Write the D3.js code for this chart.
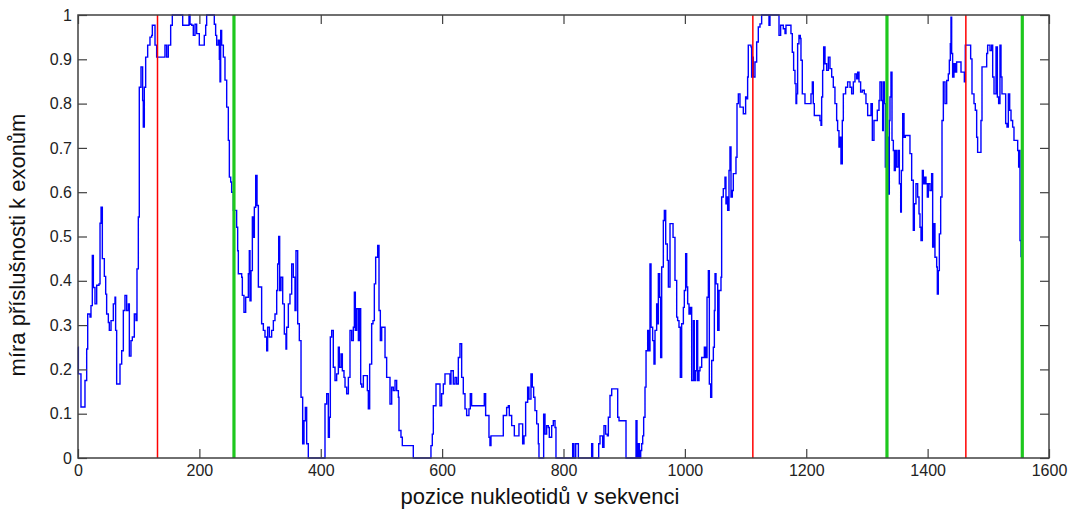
<!DOCTYPE html>
<html>
<head>
<meta charset="utf-8">
<script src="https://cdn.jsdelivr.net/npm/d3@7"></script>
<style>
  html, body { margin: 0; padding: 0; background: #fff; }
  svg { display: block; }
  text { font-family: "Liberation Sans", Arial, sans-serif; }
</style>
</head>
<body>
<svg id="chart" width="1070" height="514"></svg>
<script>
// ---- data ----
const xTicks = [0, 200, 400, 600, 800, 1000, 1200, 1400, 1600];
const yTicks = [0, 0.1, 0.2, 0.3, 0.4, 0.5, 0.6, 0.7, 0.8, 0.9, 1];
const xLabel = "pozice nukleotidů v sekvenci";
const yLabel = "míra příslušnosti k exonům";
const exonStarts = [131, 1112, 1463];   // red markers
const exonEnds = [257, 1333, 1556];     // green markers

const posX = [
 0,0.6,4.9,11.5,14.3,16,19.8,21.4,23.6,25.3,28,30.8,34.6,36.3,38,40.1,43.4,45.6,47.2,50,51.6,54.4,58.2,61,62,63.7,69.2,72,74.7,77.4,80.2,83,84.6,87.3,89.5,92.8,95.6,97.2,99.4,101,103.8,106.5,107.6,109.3,111.5,114.8,118.6,121.4,122.5,126.9,129.6,143.3,146.1,148.8,152.7,155.4,172.5,182.9,184.6,187.3,190,192.8,195.5,199.9,208.1,210.4,212,224.6,226.8,228.5,231.2,232.9,234,235.1,236.7,239.5,242.2,245,247.7,249.4,251.6,253.2,256,
 261.4,263.1,264.2,269.7,270.8,273.5,276.3,280.7,282.3,283.4,285.1,287.3,288.9,290.6,292.8,295,297.2,302.6,305.4,308.1,310.9,312.5,315.3,319.1,321.9,324.6,327.4,329,330.7,332.3,334.5,337.3,340,342.7,343.8,346.6,349.3,352.1,354.8,357.6,359.2,362,364.7,367.5,370.2,372.4,374.6,376.8,379.5,404.3,407,409.8,412.5,414.2,415.8,418,420.7,423.5,426.2,429,430.6,433.4,435.6,438.3,440,442.7,445.5,448.2,451,453.7,455.4,457,459.2,462,463.6,465.8,467.4,470.2,476.8,478.4,480.6,483.9,486.1,488.3,490.5,493.8,496,498.2,500.4,505.9,508.6,514.1,516.9,519.6,522.4,525.1,527.9,
 528.9,532.2,534.4,552.5,580,581.6,583.8,585.5,589.9,596.5,599.2,602,604.7,612.9,614.6,618.4,621.2,623.9,626.7,629.4,632.2,634.9,637.7,640.4,644.2,646.4,648.6,669.5,671.7,677.2,678.8,680.5,700.8,706.3,709.1,710.7,714.6,719,726.6,732.7,734.9,737.6,740.9,743.1,746.4,748.6,750.8,753,755.8,758.5,759.6,765.1,767.3,769.5,772.2,775,776.6,780.5,783.2,786,
 787.6,815.1,817.3,820.1,824.5,846.4,848.1,858,860.2,864.5,866.7,869.5,872.2,873.9,876.6,879.4,889.3,891.5,903,919.5,921.1,923.3,925,927.2,928.8,930.5,932.1,934.3,936,938.7,940.9,942.5,944.2,946.9,949.1,950.8,953.5,955.2,956.3,958.5,960.1,961.8,964.5,966.2,968.4,971.1,972.8,975.5,980.5,983.7,986.5,988.1,990.3,992.5,994.7,997.5,999.1,1001.3,1003,1004.6,1006.8,1009,1011.2,1014,1015.6,1017.8,1019.5,1021.1,1023.3,1024.9,1027.7,1032.1,1034.3,1036.5,1038.7,1040.3,1042.5,1044.2,1046.9,1048.6,1049.7,1051.3,1054.1,1056.3,
 1059.5,1060.6,1063.3,1066.1,1067.7,1069.4,1070.5,1072.7,1074.3,1076,1078.2,1079.8,1084.2,1085.9,1088.1,1090.8,1096.3,1100.1,1101.8,1103.4,1104.5,1108.9,1110,1111.1,1112.8,1115.5,1118.3,1121,1123.8,1126.5,1138.6,1140.2,1155.1,1157.8,1162.2,1165,1166.6,1174.8,1177,1179.2,1181.4,1183.1,1184.2,1185.8,1188,1190.2,1191.3,1193.5,1197.9,1207.8,1210,1211.6,1213.3,1222.6,1224.3,1225.4,1227,1228.7,1230.9,1233.6,1236.4,1239.1,1241.9,1244.6,1247.3,1250.1,1251.7,1253.9,1255.6,1257.2,1259.4,1261.1,1264.9,1268.2,1272.1,1274.8,1277.6,1280.3,1283.1,1284.7,1286.9,1289.6,1292.4,1295.7,1298.4,1301.2,1306.7,1308.9,1311.6,1317.1,1319.9,1321.5,
 1324.2,1325.9,1327,1328.6,1330.3,1332.5,1334.7,1335.8,1336.9,1338,1339.6,1341.3,1343.5,1345.1,1346.8,1349,1351.7,1353.4,1355.6,1356.7,1358.9,1361.1,1363.2,1370.9,1373.7,1376.4,1378.1,1380.8,1383.6,1385.8,1387.4,1389.1,1391.3,1392.9,1395.1,1397.3,1399.5,1401.2,1403.9,1406.6,1408.3,1410.5,1412.1,1414.9,1416,1417.6,1419.3,1421.5,1423.7,1425.9,1428.6,1431.4,1434.1,1435.8,1437.4,1438.5,1439.6,1441.2,1443.4,1445.6,1447.8,1455,1460.5,1462.1,1470.9,1473.1,1476.4,1478.6,1480.8,1482.4,1487.9,1489.6,1497.3,1498.9,1502.8,1505.5,1507.2,1509.4,1512.7,1514.9,1517,1519.2,1520.9,1522.5,1528.6,1530.8,1533,1535.2,1537.4,1540.1,1542.3,1548.4,1550,1551.1,1552.2,1553.9
];

const membership = [
 0.25,0.19,0.115,0.175,0.246,0.325,0.318,0.344,0.457,0.385,0.348,0.39,0.393,0.53,0.566,0.45,0.41,0.37,0.325,0.306,0.288,0.31,0.348,0.363,0.288,0.167,0.212,0.242,0.333,0.367,0.333,0.348,0.23,0.265,0.273,0.325,0.31,0.427,0.544,0.837,0.883,0.807,0.747,0.837,0.905,0.932,0.95,0.954,0.977,0.932,0.905,0.932,0.905,0.932,0.977,1.0,0.977,1.0,0.979,0.977,0.954,0.979,0.958,0.932,0.954,0.977,1.0,0.979,0.954,0.932,0.943,0.9,0.849,0.965,0.932,0.905,0.853,0.792,0.717,0.634,0.623,0.6,0.559,
 0.521,0.468,0.416,0.408,0.367,0.329,0.363,0.416,0.468,0.355,0.423,0.544,0.498,0.566,0.638,0.57,0.386,0.303,0.288,0.273,0.242,0.295,0.273,0.288,0.31,0.325,0.378,0.438,0.5,0.378,0.408,0.348,0.28,0.246,0.295,0.348,0.37,0.438,0.408,0.333,0.468,0.303,0.265,0.137,0.032,0.084,0.114,0.032,0,0,0.122,0.145,0.047,0.092,0.273,0.288,0.205,0.175,0.19,0.25,0.205,0.235,0.197,0.182,0.16,0.145,0.182,0.288,0.265,0.295,0.374,0.288,0.337,0.265,0.337,0.167,0.16,0.186,0.152,0.111,0.212,0.303,0.31,0.393,0.453,0.48,0.333,0.265,0.295,0.227,0.182,0.122,0.16,0.152,0.175,0.152,0.137,
 0.062,0.047,0.028,0,0,0.028,0.054,0.118,0.167,0.118,0.145,0.167,0.19,0.167,0.197,0.167,0.182,0.167,0.227,0.258,0.182,0.145,0.111,0.096,0.111,0.145,0.118,0.145,0.096,0.047,0.028,0.05,0.096,0.114,0.118,0.096,0.073,0.05,0.077,0.032,0.05,0.126,0.16,0.133,0.19,0.16,0.137,0.107,0.077,0.032,0,0,0.099,0.054,0.073,0.069,0.047,0.073,0.084,0.069,
 0,0.032,0,0.032,0,0.032,0,0.032,0.05,0.024,0.073,0.054,0.05,0.092,0.141,0.156,0.092,0.084,0,0.084,0,0.032,0,0.017,0.032,0.05,0.092,0.16,0.242,0.288,0.242,0.438,0.295,0.265,0.212,0.288,0.348,0.303,0.416,0.363,0.227,0.431,0.536,0.559,0.483,0.446,0.386,0.529,0.498,0.401,0.318,0.31,0.295,0.182,0.303,0.34,0.378,0.461,0.386,0.348,0.325,0.34,0.175,0.31,0.175,0.197,0.31,0.175,0.197,0.205,0.227,0.25,0.227,0.363,0.423,0.167,0.137,0.22,0.25,0.333,0.416,0.393,0.288,0.378,
 0.408,0.589,0.608,0.634,0.574,0.589,0.559,0.649,0.702,0.589,0.604,0.642,0.679,0.8,0.822,0.792,0.777,0.815,0.811,0.86,0.932,0.928,0.86,0.905,0.86,0.894,0.939,0.973,0.98,1.0,0.977,1.0,0.954,0.977,0.969,0.958,0.977,0.958,0.916,0.875,0.845,0.8,0.822,0.935,0.954,0.947,0.898,0.822,0.8,0.822,0.849,0.8,0.773,0.762,0.751,0.815,0.875,0.928,0.89,0.875,0.905,0.879,0.86,0.837,0.8,0.762,0.739,0.702,0.724,0.664,0.762,0.822,0.837,0.849,0.837,0.822,0.849,0.867,0.856,0.871,0.849,0.826,0.83,0.822,0.8,0.773,0.8,0.717,0.762,0.785,0.807,0.849,
 0.807,0.739,0.849,0.8,0.657,0.724,0.657,0.596,0.762,0.815,0.871,0.717,0.694,0.649,0.694,0.657,0.694,0.619,0.555,0.649,0.777,0.724,0.728,0.687,0.627,0.514,0.574,0.619,0.589,0.551,0.521,0.491,0.649,0.619,0.634,0.619,0.589,0.619,0.604,0.642,0.476,0.529,0.453,0.431,0.37,0.423,0.506,0.589,0.762,0.849,0.8,0.852,0.867,0.898,0.935,0.995,0.913,0.86,0.89,0.871,0.894,0.871,0.849,0.932,0.901,0.822,0.8,0.785,0.724,0.69,0.762,0.883,0.913,0.932,0.92,0.932,0.86,0.822,0.928,0.815,0.8,0.932,0.86,0.822,0.755,0.747,0.822,0.785,0.762,0.747,0.717,0.694,0.657,0.694,0.491,0.453
];

// ---- layout ----
const svg = d3.select("#chart");
const m = { left: 78, top: 15, right: 1049, bottom: 458 };
const W = m.right - m.left, H = m.bottom - m.top;

const x = d3.scaleLinear().domain([0, 1600]).range([0, W]);
const y = d3.scaleLinear().domain([0, 1]).range([H, 0]);

const g = svg.append("g").attr("transform", `translate(${m.left},${m.top})`);

const fmt = d => String(+d.toFixed(1));
const axisColor = "#404040";
const tickLen = 9;

// line
const pts = posX.map((v, i) => [v, membership[i]]);
const line = d3.line().x(d => x(d[0])).y(d => y(d[1])).curve(d3.curveStepAfter);
g.append("path")
  .datum(pts)
  .attr("fill", "none")
  .attr("stroke", "#0000ff")
  .attr("stroke-width", 1.4)
  .attr("stroke-linejoin", "miter")
  .attr("d", line);

// marker lines
g.selectAll("line.start").data(exonStarts).join("line")
  .attr("class", "start")
  .attr("x1", d => x(d)).attr("x2", d => x(d))
  .attr("y1", 0).attr("y2", H)
  .attr("stroke", "#ff0000").attr("stroke-width", 1.5);
g.selectAll("line.end").data(exonEnds).join("line")
  .attr("class", "end")
  .attr("x1", d => x(d)).attr("x2", d => x(d))
  .attr("y1", 0).attr("y2", H)
  .attr("stroke", "#1ec81e").attr("stroke-width", 3.2);

// axes
function styleAxis(sel, labels) {
  sel.select(".domain").remove();
  sel.selectAll(".tick line").attr("stroke", axisColor).attr("stroke-width", 1.2);
  sel.selectAll(".tick text")
    .attr("fill", "#222")
    .style("font-size", "16px")
    .style("font-family", "'Liberation Sans', Arial, sans-serif");
  if (!labels) sel.selectAll(".tick text").remove();
}

g.append("g").attr("transform", `translate(0,${H})`)
  .call(d3.axisBottom(x).tickValues(xTicks).tickFormat(d3.format("d")).tickSize(-tickLen).tickPadding(7))
  .call(s => styleAxis(s, true));
g.append("g")
  .call(d3.axisTop(x).tickValues(xTicks).tickSize(-tickLen))
  .call(s => styleAxis(s, false));
g.append("g")
  .call(d3.axisLeft(y).tickValues(yTicks).tickFormat(fmt).tickSize(-tickLen).tickPadding(6))
  .call(s => styleAxis(s, true));
g.append("g").attr("transform", `translate(${W},0)`)
  .call(d3.axisRight(y).tickValues(yTicks).tickSize(-tickLen))
  .call(s => styleAxis(s, false));

// frame
g.append("rect")
  .attr("x", 0).attr("y", 0).attr("width", W).attr("height", H)
  .attr("fill", "none").attr("stroke", axisColor).attr("stroke-width", 1.5);

// titles
svg.append("text")
  .attr("x", 540).attr("y", 504)
  .attr("text-anchor", "middle")
  .style("font-size", "22px").attr("fill", "#111")
  .text(xLabel);
svg.append("text")
  .attr("transform", `translate(25,245) rotate(-90)`)
  .attr("text-anchor", "middle")
  .style("font-size", "22px").attr("fill", "#111")
  .text(yLabel);
</script>
</body>
</html>
